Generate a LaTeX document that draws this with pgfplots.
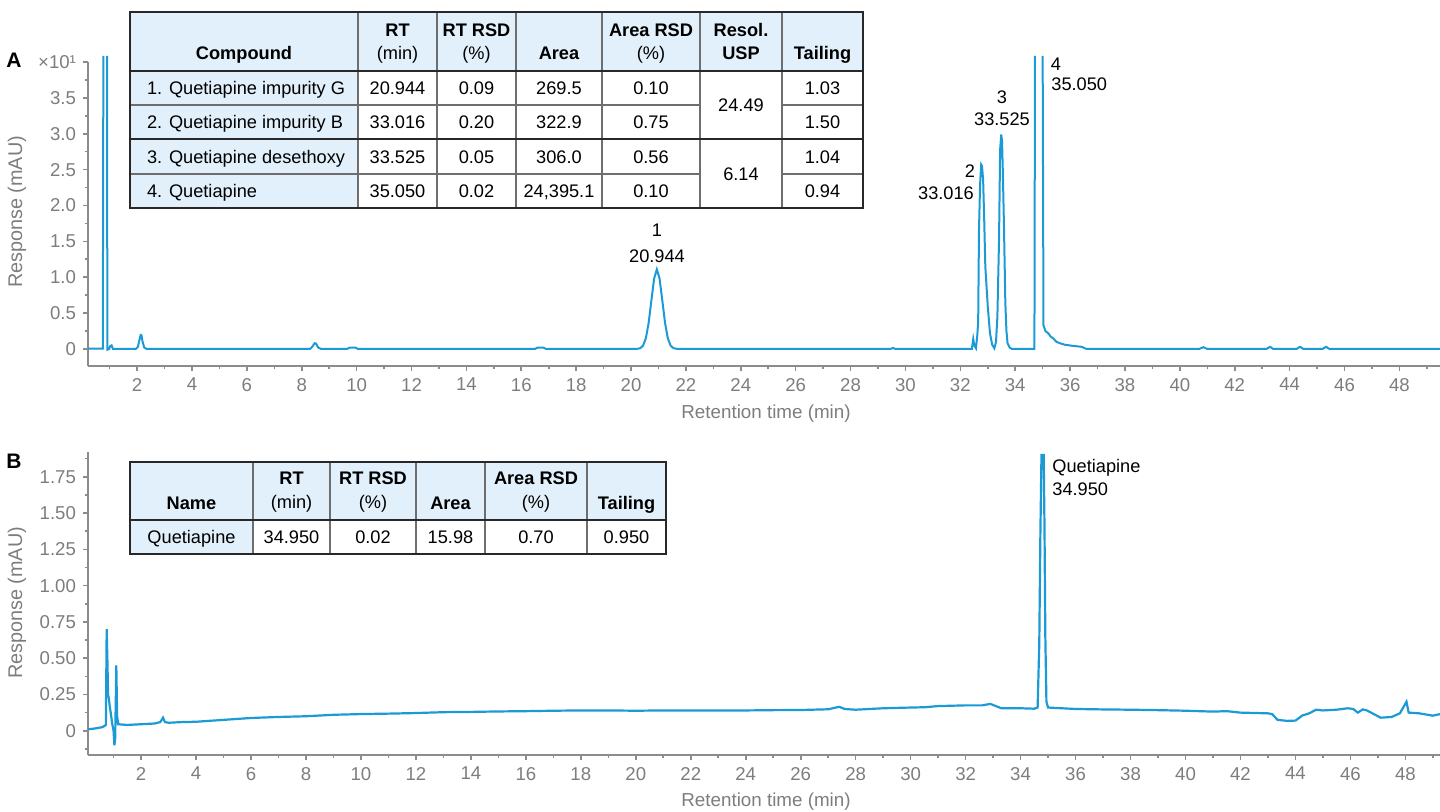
\documentclass[border=0pt]{standalone}
\usepackage{fontspec}
\setmainfont{Liberation Sans}
\usepackage{pgfplots}
\pgfplotsset{compat=1.18}
\definecolor{lineblue}{RGB}{27,154,214}
\definecolor{axgray}{RGB}{140,140,140}
\definecolor{txtgray}{RGB}{125,125,125}
\definecolor{cellblue}{RGB}{225,240,250}
\definecolor{tline}{RGB}{110,110,110}
\definecolor{tdark}{RGB}{40,40,40}
\pgfplotsset{chrom/.style={
  scale only axis, anchor=south west, enlargelimits=false, clip=false,
  axis x line*=bottom, axis y line*=left,
  axis line style={-,axgray,line width=1pt},
  tick align=outside, major tick length=2.5pt, minor tick length=1.6pt,
  tick style={axgray,line width=0.8pt},
  xtick={2,4,...,48}, minor xtick={1,3,...,49},
  tick label style={font=\fontsize{9.3}{10}\selectfont, text=txtgray},
  /pgf/number format/assume math mode=true,
  unbounded coords=jump,
  width=676pt,
}}
\newcommand{\T}[3]{\node[anchor=base,inner sep=0pt] at ({#1},{805.5-#2}) {#3};}
\newcommand{\TL}[3]{\node[anchor=base west,inner sep=0pt] at ({#1},{805.5-#2}) {#3};}
\begin{document}
\begin{tikzpicture}[x=0.5pt,y=0.5pt,font=\fontsize{9.1}{11}\selectfont]
\path[use as bounding box] (0,0) rectangle (1440,812);

% ---------------- Panel A ----------------
\begin{axis}[chrom, at={(44pt,223pt)}, height=152pt,
  xmin=0.21, xmax=49.48, ymin=-0.237, ymax=4.0,
  ytick={0,0.5,...,4}, minor ytick={0.25,0.75,...,3.75},
  yticklabels={0,0.5,1.0,1.5,2.0,2.5,3.0,3.5,×10¹}]
\addplot[lineblue, line width=1pt] coordinates {
(0.21,0.005)(0.75,0.005)(0.77,4.085)(0.84,nan)(0.905,4.085)(0.915,-0.01)(0.98,0.0)(1.02,0.04)(1.07,0.05)(1.12,0.0)(1.25,0.0)
(1.95,0)(2.03,0.03)(2.08,0.12)(2.13,0.195)(2.16,0.19)(2.2,0.1)(2.26,0.02)(2.35,0)
(8.3,0)(8.38,0.03)(8.47,0.08)(8.52,0.075)(8.6,0.02)(8.7,0)
(9.65,0)(9.75,0.02)(9.95,0.02)(10.05,0)
(16.5,0)(16.6,0.02)(16.8,0.02)(16.9,0)
(20.2,0)(20.34,0.012)(20.44,0.048)(20.54,0.15)(20.64,0.36)(20.74,0.673)(20.84,0.98)(20.94,1.11)(21.04,0.98)(21.14,0.673)(21.24,0.36)(21.34,0.15)(21.44,0.048)(21.54,0.012)(21.7,0)
(29.45,0)(29.54,0.015)(29.62,0)
(32.3,0)(32.42,0.0)(32.47,0.14)(32.51,0.05)(32.57,0.01)(32.62,0.2)(32.65,0.38)(32.68,1.66)(32.72,2.3)(32.76,2.57)(32.79,2.55)(32.83,2.36)(32.87,1.8)(32.91,1.15)(33.0,0.59)(33.08,0.22)(33.16,0.06)(33.24,0.01)(33.3,0.1)(33.35,0.45)(33.41,1.52)(33.45,2.78)(33.49,2.99)(33.52,2.9)(33.55,2.45)(33.59,1.71)(33.64,0.64)(33.68,0.25)(33.72,0.08)(33.8,0.02)(33.88,0.0)(34.66,0.0)(34.70,0.0)(34.72,4.085)(34.85,nan)(35.0,4.085)(35.03,0.33)(35.1,0.25)(35.2,0.22)(35.3,0.17)(35.38,0.15)(35.5,0.1)(35.63,0.08)(35.8,0.06)(35.99,0.05)(36.06,0.045)(36.2,0.04)(36.42,0.03)(36.6,0.0)
(40.7,0)(40.86,0.025)(41.0,0)
(43.15,0)(43.29,0.03)(43.4,0)
(44.25,0)(44.38,0.03)(44.5,0)
(45.2,0)(45.33,0.03)(45.45,0)
(49.48,0)
};
\end{axis}

% ---------------- Panel B ----------------
\begin{axis}[chrom, at={(44pt,28.5pt)}, height=151.65pt,
  xmin=0.07, xmax=49.26, ymin=-0.167, ymax=1.923,
  ytick={0,0.25,...,1.75}, minor ytick={-0.125,0.125,...,1.875},
  yticklabels={0,0.25,0.50,0.75,1.00,1.25,1.50,1.75}]
\addplot[lineblue, line width=1.1pt] coordinates {
(0.07,0.01)(0.3,0.015)(0.6,0.025)(0.72,0.04)(0.75,0.70)(0.78,0.45)(0.8,0.25)(0.83,0.22)(0.86,0.17)(0.9,0.12)(0.95,0.05)(1.0,0.0)(1.03,-0.10)(1.06,-0.05)(1.1,0.45)(1.13,0.1)(1.17,0.045)(1.5,0.04)(2.0,0.045)(2.5,0.05)(2.7,0.06)(2.8,0.09)(2.87,0.06)(3.0,0.055)(3.5,0.06)(4.0,0.062)(5.0,0.075)(6.0,0.088)(7.0,0.095)(8.0,0.10)(9.0,0.11)(10.0,0.115)(11.0,0.118)(12.0,0.122)(13.0,0.128)(14.0,0.13)(15.0,0.133)(16.0,0.135)(17.0,0.138)(18.0,0.14)(19.0,0.14)(20.0,0.138)(21.0,0.14)(22.0,0.14)(23.0,0.14)(24.0,0.14)(25.0,0.142)(26.0,0.143)(27.0,0.148)(27.4,0.165)(27.6,0.15)(28.0,0.145)(28.5,0.15)(29.0,0.155)(30.0,0.16)(30.5,0.162)(31.0,0.17)(32.0,0.175)(32.6,0.175)(32.9,0.185)(33.1,0.17)(33.3,0.155)(34.0,0.155)(34.5,0.152)(34.62,0.16)(34.68,0.6)(34.72,1.35)(34.76,1.9)(34.84,1.9)(34.87,1.4)(34.9,0.65)(34.94,0.2)(35.0,0.16)(35.5,0.155)(36.0,0.15)(37.0,0.147)(38.0,0.145)(39.0,0.142)(40.0,0.138)(41.0,0.132)(41.5,0.135)(42.0,0.125)(43.0,0.12)(43.15,0.115)(43.35,0.075)(43.7,0.068)(44.0,0.07)(44.25,0.105)(44.5,0.12)(44.75,0.145)(45.0,0.14)(45.5,0.145)(45.9,0.155)(46.1,0.15)(46.27,0.125)(46.45,0.147)(46.6,0.14)(47.0,0.1)(47.1,0.09)(47.5,0.095)(47.8,0.12)(48.04,0.2)(48.12,0.125)(48.5,0.12)(49.0,0.104)(49.26,0.115)
};
\end{axis}

% ---------------- axis titles ----------------
\node[rotate=90, text=txtgray, inner sep=0pt, font=\fontsize{9.9}{11}\selectfont] at (17,{812-212}) {Response (mAU)};
\node[rotate=90, text=txtgray, inner sep=0pt, font=\fontsize{9.9}{11}\selectfont] at (17,{812-603}) {Response (mAU)};
\node[text=txtgray, inner sep=0pt, font=\fontsize{9.4}{11}\selectfont] at (766,{812-414}) {Retention time (min)};
\node[text=txtgray, inner sep=0pt, font=\fontsize{9.4}{11}\selectfont] at (766,{812-802}) {Retention time (min)};
\node[font=\fontsize{10.5}{12}\selectfont\bfseries, inner sep=0pt] at (14,{812-60}) {A};
\node[font=\fontsize{10.5}{12}\selectfont\bfseries, inner sep=0pt] at (14,{812-461}) {B};

% ---------------- peak labels ----------------
\T{657}{230}{1}
\T{657}{256}{20.944}
\T{970}{171}{2}
\T{946}{193}{33.016}
\T{1002}{97}{3}
\T{1002}{119}{33.525}
\T{1056}{64}{4}
\TL{1051}{84}{35.050}
\TL{1052}{466}{Quetiapine}
\TL{1052}{489}{34.950}

% ---------------- Table A ----------------
\fill[cellblue] (130,{812-12}) rectangle (863,{812-71});
\fill[cellblue] (130,{812-71}) rectangle (358,{812-208.5});
\draw[tline, line width=0.9pt] (130,{812-105}) -- (700,{812-105}) (782,{812-105}) -- (863,{812-105});
\draw[tline, line width=0.9pt] (130,{812-174}) -- (700,{812-174}) (782,{812-174}) -- (863,{812-174});
\foreach \c in {358,437,516,602,700,782}{\draw[tline, line width=0.9pt] (\c,{812-12}) -- (\c,{812-208.5});}
\draw[tdark, line width=1pt] (130,{812-71}) -- (863,{812-71});
\draw[tdark, line width=1pt] (130,{812-139.5}) -- (863,{812-139.5});
\draw[tdark, line width=1pt] (130,{812-12}) rectangle (863,{812-208.5});
\begin{scope}[font=\fontsize{9.1}{11}\selectfont\bfseries]
\T{244}{53}{Compound}
\T{397.5}{30}{RT}
\T{476.5}{30}{RT RSD}
\T{559}{53}{Area}
\T{651}{30}{Area RSD}
\T{741}{30}{Resol.}
\T{741}{53}{USP}
\T{822.5}{53}{Tailing}
\end{scope}
\T{397.5}{53}{(min)}
\T{476.5}{53}{(\%)}
\T{651}{53}{(\%)}
\TL{146.7}{88}{1. Quetiapine impurity G}
\TL{146.7}{122.3}{2. Quetiapine impurity B}
\TL{146.7}{156.7}{3. Quetiapine desethoxy}
\TL{146.7}{191.2}{4. Quetiapine}
\T{397.5}{88}{20.944}\T{397.5}{122.3}{33.016}\T{397.5}{156.7}{33.525}\T{397.5}{191.2}{35.050}
\T{476.5}{88}{0.09}\T{476.5}{122.3}{0.20}\T{476.5}{156.7}{0.05}\T{476.5}{191.2}{0.02}
\T{559}{88}{269.5}\T{559}{122.3}{322.9}\T{559}{156.7}{306.0}\T{559}{191.2}{24,395.1}
\T{651}{88}{0.10}\T{651}{122.3}{0.75}\T{651}{156.7}{0.56}\T{651}{191.2}{0.10}
\T{741}{105}{24.49}\T{741}{174}{6.14}
\T{822.5}{88}{1.03}\T{822.5}{122.3}{1.50}\T{822.5}{156.7}{1.04}\T{822.5}{191.2}{0.94}

% ---------------- Table B ----------------
\fill[cellblue] (130,{812-461.7}) rectangle (666,{812-520});
\fill[cellblue] (130,{812-520}) rectangle (253,{812-554});
\foreach \c in {253,330,416,485,587}{\draw[tline, line width=0.9pt] (\c,{812-461.7}) -- (\c,{812-554});}
\draw[tdark, line width=1pt] (130,{812-520}) -- (666,{812-520});
\draw[tdark, line width=1pt] (130,{812-461.7}) rectangle (666,{812-554});
\begin{scope}[font=\fontsize{9.1}{11}\selectfont\bfseries]
\T{191.5}{503}{Name}
\T{291.5}{478}{RT}
\T{373}{478}{RT RSD}
\T{450.5}{503}{Area}
\T{536}{478}{Area RSD}
\T{626.5}{503}{Tailing}
\end{scope}
\T{291.5}{502}{(min)}
\T{373}{502}{(\%)}
\T{536}{502}{(\%)}
\T{191.5}{537}{Quetiapine}
\T{291.5}{537}{34.950}
\T{373}{537}{0.02}
\T{450.5}{537}{15.98}
\T{536}{537}{0.70}
\T{626.5}{537}{0.950}
\end{tikzpicture}
\end{document}
